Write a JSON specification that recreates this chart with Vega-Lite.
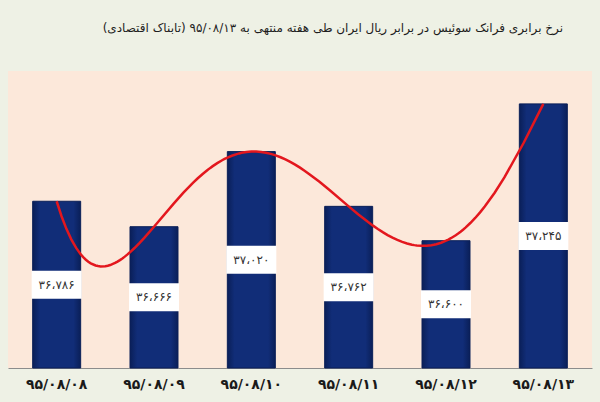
{
  "$schema": "https://vega.github.io/schema/vega-lite/v6.json",
  "width": 584,
  "height": 297,
  "autosize": {"type": "none"},
  "padding": {"left": 8, "top": 71, "right": 8, "bottom": 34},
  "background": "#eef1e5",
  "view": {"fill": "#fce8da", "stroke": null},
  "title": {
    "text": "نرخ برابری فرانک سوئیس در برابر ریال ایران طی هفته منتهی به ۹۵/۰۸/۱۳ (تابناک اقتصادی)",
    "anchor": "end",
    "frame": "group",
    "dx": -29,
    "offset": 36,
    "font": "DejaVu Sans",
    "fontSize": 12,
    "fontWeight": "normal",
    "color": "#1e1e1e"
  },
  "data": {
    "values": [
      {"i": 0, "date": "۹۵/۰۸/۰۸", "value": 36786, "label": "۳۶،۷۸۶"},
      {"i": 1, "date": "۹۵/۰۸/۰۹", "value": 36666, "label": "۳۶،۶۶۶"},
      {"i": 2, "date": "۹۵/۰۸/۱۰", "value": 37020, "label": "۳۷،۰۲۰"},
      {"i": 3, "date": "۹۵/۰۸/۱۱", "value": 36762, "label": "۳۶،۷۶۲"},
      {"i": 4, "date": "۹۵/۰۸/۱۲", "value": 36600, "label": "۳۶،۶۰۰"},
      {"i": 5, "date": "۹۵/۰۸/۱۳", "value": 37245, "label": "۳۷،۲۴۵"}
    ]
  },
  "resolve": {"scale": {"x": "independent", "y": "independent"}},
  "layer": [
    {
      "mark": {
        "type": "bar",
        "color": {
          "gradient": "linear", "x1": 0, "x2": 1, "y1": 0, "y2": 0,
          "stops": [
            {"offset": 0, "color": "#0a1f58"},
            {"offset": 0.15, "color": "#112d78"},
            {"offset": 0.85, "color": "#112d78"},
            {"offset": 1, "color": "#0a1f58"}
          ]
        },
        "stroke": "#0a1f58",
        "strokeWidth": 1
      },
      "encoding": {
        "x": {
          "field": "date", "type": "ordinal", "sort": null,
          "scale": {"paddingInner": 0.507, "paddingOuter": 0.2535},
          "axis": {
            "title": null, "ticks": false, "domain": true, "domainColor": "#8c8c8c", "domainWidth": 1,
            "labelFont": "DejaVu Sans", "labelFontSize": 14, "labelFontWeight": "bold",
            "labelColor": "#1a1a1a", "labelPadding": 9, "labelAngle": 0, "grid": false
          }
        },
        "y": {"field": "value", "type": "quantitative", "scale": {"domain": [36000, 37400], "zero": false, "nice": false}, "axis": null},
        "y2": {"datum": 36000}
      }
    },
    {
      "mark": {"type": "tick", "color": "#ffffff", "opacity": 1, "size": 50, "thickness": 28, "orient": "horizontal"},
      "encoding": {
        "x": {"field": "date", "type": "ordinal", "sort": null, "scale": {"paddingInner": 0.507, "paddingOuter": 0.2535}, "axis": null},
        "y": {"field": "value", "type": "quantitative", "scale": {"domain": [36000, 38800], "zero": false, "nice": false}, "axis": null}
      }
    },
    {
      "mark": {"type": "text", "font": "DejaVu Sans", "fontSize": 12, "color": "#333333", "baseline": "middle", "align": "center"},
      "encoding": {
        "x": {"field": "date", "type": "ordinal", "sort": null, "scale": {"paddingInner": 0.507, "paddingOuter": 0.2535}, "axis": null},
        "y": {"field": "value", "type": "quantitative", "scale": {"domain": [36000, 38800], "zero": false, "nice": false}, "axis": null},
        "text": {"field": "label"}
      }
    },
    {
      "transform": [{"regression": "value", "on": "i", "method": "poly", "order": 5}],
      "mark": {"type": "line", "color": "#e3171e", "strokeWidth": 2.5},
      "encoding": {
        "x": {"field": "i", "type": "quantitative", "scale": {"domain": [-0.5, 5.5], "nice": false, "zero": false}, "axis": null},
        "y": {"field": "value", "type": "quantitative", "scale": {"domain": [36000, 37400], "zero": false, "nice": false}, "axis": null}
      }
    }
  ]
}
